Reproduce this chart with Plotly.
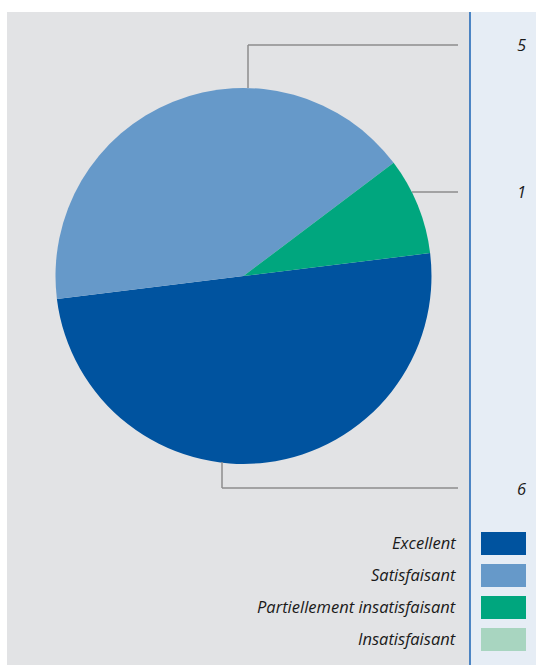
import plotly.graph_objects as go

# Data
categories = ["Excellent", "Satisfaisant", "Partiellement insatisfaisant", "Insatisfaisant"]
counts = [6, 5, 1, 0]
colors = ["#00539f", "#6699c9", "#00a67e", "#a8d5c0"]

W, H = 536, 666

def px(x):
    return x / W

def py(y):
    return 1 - y / H

# Pie geometry in pixels
cx, cy, r = 243.5, 276, 188

fig = go.Figure()
fig.add_trace(go.Pie(
    labels=categories,
    values=counts,
    marker=dict(colors=colors, line=dict(width=0)),
    sort=False,
    direction="clockwise",
    rotation=83,
    textinfo="none",
    hoverinfo="label+value",
    showlegend=False,
    domain=dict(x=[px(cx - r), px(cx + r)], y=[py(cy + r), py(cy - r)]),
))

shapes = []
# panels
shapes.append(dict(type="rect", xref="paper", yref="paper", x0=px(7), x1=px(470), y0=py(665), y1=py(12),
                   fillcolor="#e2e3e5", line=dict(width=0), layer="below"))
shapes.append(dict(type="rect", xref="paper", yref="paper", x0=px(470), x1=px(536), y0=py(665), y1=py(12),
                   fillcolor="#e6edf5", line=dict(width=0), layer="below"))
shapes.append(dict(type="line", xref="paper", yref="paper", x0=px(470), x1=px(470), y0=py(665), y1=py(12),
                   line=dict(color="#1a63b5", width=1.5), layer="below"))

# leader lines (pixel paths) for value labels
leaders = {
    "Satisfaisant": [(248, 88), (248, 45), (458, 45)],
    "Partiellement insatisfaisant": [(412, 192), (458, 192)],
    "Excellent": [(222, 462), (222, 488), (458, 488)],
}
grey = "#8c8c8c"
for name, pts in leaders.items():
    for (x0, y0), (x1, y1) in zip(pts[:-1], pts[1:]):
        shapes.append(dict(type="line", xref="paper", yref="paper",
                           x0=px(x0), y0=py(y0), x1=px(x1), y1=py(y1),
                           line=dict(color=grey, width=1.5)))

annotations = []
font = dict(family="Open Sans, sans-serif", size=16.5, color="#1a1a1a")
for name, pts in leaders.items():
    v = counts[categories.index(name)]
    annotations.append(dict(xref="paper", yref="paper", x=px(521), y=py(pts[-1][1]),
                            text=f"<i>{v}</i>", showarrow=False, font=font,
                            xanchor="center", yanchor="middle"))

# legend rows
legend_y = [543.5, 575.5, 607.5, 639.5]
for name, col, yy in zip(categories, colors, legend_y):
    shapes.append(dict(type="rect", xref="paper", yref="paper",
                       x0=px(481), x1=px(526), y0=py(yy + 11.5), y1=py(yy - 11.5),
                       fillcolor=col, line=dict(width=0)))
    annotations.append(dict(xref="paper", yref="paper", x=px(458), y=py(yy - 1.5),
                            text=f"<i>{name}</i>", showarrow=False, font=font,
                            xanchor="right", yanchor="middle"))

fig.update_layout(
    width=W, height=H,
    margin=dict(l=0, r=0, t=0, b=0),
    paper_bgcolor="white",
    plot_bgcolor="white",
    shapes=shapes,
    annotations=annotations,
)

fig.write_html("out.html")
